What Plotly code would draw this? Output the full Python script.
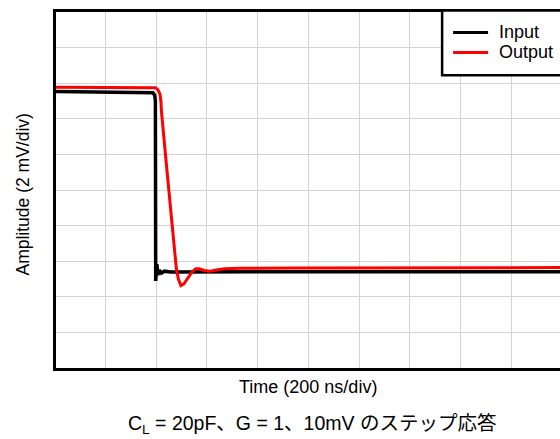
import plotly.graph_objects as go

# Step response capture: time in ns, amplitude in mV
input_t = [0, 378, 387.8, 394.9, 397.6, 398.8, 403.5, 407.5, 413.4, 421.3, 433, 456.7, 1992]
input_v = [15.53, 15.51, 15.47, 15.33, 15.0, 4.89, 5.83, 5.22, 5.5, 5.33, 5.44, 5.4, 5.41]

output_t = [0, 386, 397.6, 407.5, 415.4, 419.3, 421.3, 444.9, 471.3, 480.3, 488.2, 498,
            509.8, 525.6, 541.3, 557.1, 570.9, 590.6, 614.2, 637.8, 669.3, 732.3, 968.5, 1992]
output_v = [15.78, 15.78, 15.75, 15.64, 15.39, 15.0, 14.44, 10.83, 6.67, 5.56, 5.0, 4.63,
            4.72, 5.06, 5.39, 5.58, 5.57, 5.48, 5.44, 5.5, 5.58, 5.6, 5.62, 5.64]

series_names = ["Input", "Output"]
series_colors = ["#000000", "#ff0000"]

FONT = "Liberation Sans, Arial, sans-serif"

# Plot area in pixels
L, T, R, B = 55.5, 11.5, 560, 368.5
W, H = R - L, B - T


def px(x):
    return (x - L) / W


def py(y):
    return (B - y) / H


fig = go.Figure()
fig.add_trace(go.Scatter(x=input_t, y=input_v, mode="lines", name=series_names[0],
                         line=dict(color=series_colors[0], width=3.5), showlegend=False))
fig.add_trace(go.Scatter(x=output_t, y=output_v, mode="lines", name=series_names[1],
                         line=dict(color=series_colors[1], width=3), showlegend=False))

fig.update_layout(
    width=560, height=439,
    margin=dict(l=L, r=560 - R, t=T, b=439 - B),
    paper_bgcolor="white", plot_bgcolor="white",
    font=dict(family=FONT, color="black"),
    xaxis=dict(range=[5.9, 1992], dtick=200, tick0=0, showticklabels=False, ticks="",
               showgrid=True, gridcolor="#d3d3d3", gridwidth=1, zeroline=False,
               showline=True, linecolor="black", linewidth=3, mirror=True),
    yaxis=dict(range=[0, 20], dtick=2, tick0=0, showticklabels=False, ticks="",
               showgrid=True, gridcolor="#d3d3d3", gridwidth=1, zeroline=False,
               showline=True, linecolor="black", linewidth=3, mirror=False),
)

# Legend box, open to the right edge
fig.add_shape(type="rect", xref="paper", yref="paper", x0=px(442), x1=px(580), y0=py(75), y1=py(10),
              line=dict(color="black", width=2.5), fillcolor="white", layer="above")
legend_y = [32, 52]
for name, color, ly in zip(series_names, series_colors, legend_y):
    fig.add_shape(type="line", xref="paper", yref="paper", x0=px(453), x1=px(488), y0=py(ly), y1=py(ly),
                  line=dict(color=color, width=3), layer="above")
    fig.add_annotation(text=name, xref="paper", yref="paper", x=px(497), y=py(ly),
                       xanchor="left", yanchor="middle", showarrow=False,
                       font=dict(size=18, family=FONT, color="black"))

fig.add_annotation(text="Amplitude (2 mV/div)", xref="paper", yref="paper",
                   x=px(22), y=py(195), textangle=-90, xanchor="center", yanchor="middle",
                   showarrow=False, font=dict(size=17.5, family=FONT))
fig.add_annotation(text="Time (200 ns/div)", xref="paper", yref="paper",
                   x=px(307.5), y=py(388), xanchor="center", yanchor="middle",
                   showarrow=False, font=dict(size=18, family=FONT))
fig.add_annotation(text="C<sub>L</sub> = 20pF、G = 1、10mV のステップ応答", xref="paper", yref="paper",
                   x=px(312), y=py(425), xanchor="center", yanchor="middle",
                   showarrow=False, font=dict(size=19.5, family="Liberation Sans, Noto Sans CJK JP"))

fig.write_html("out.html")
